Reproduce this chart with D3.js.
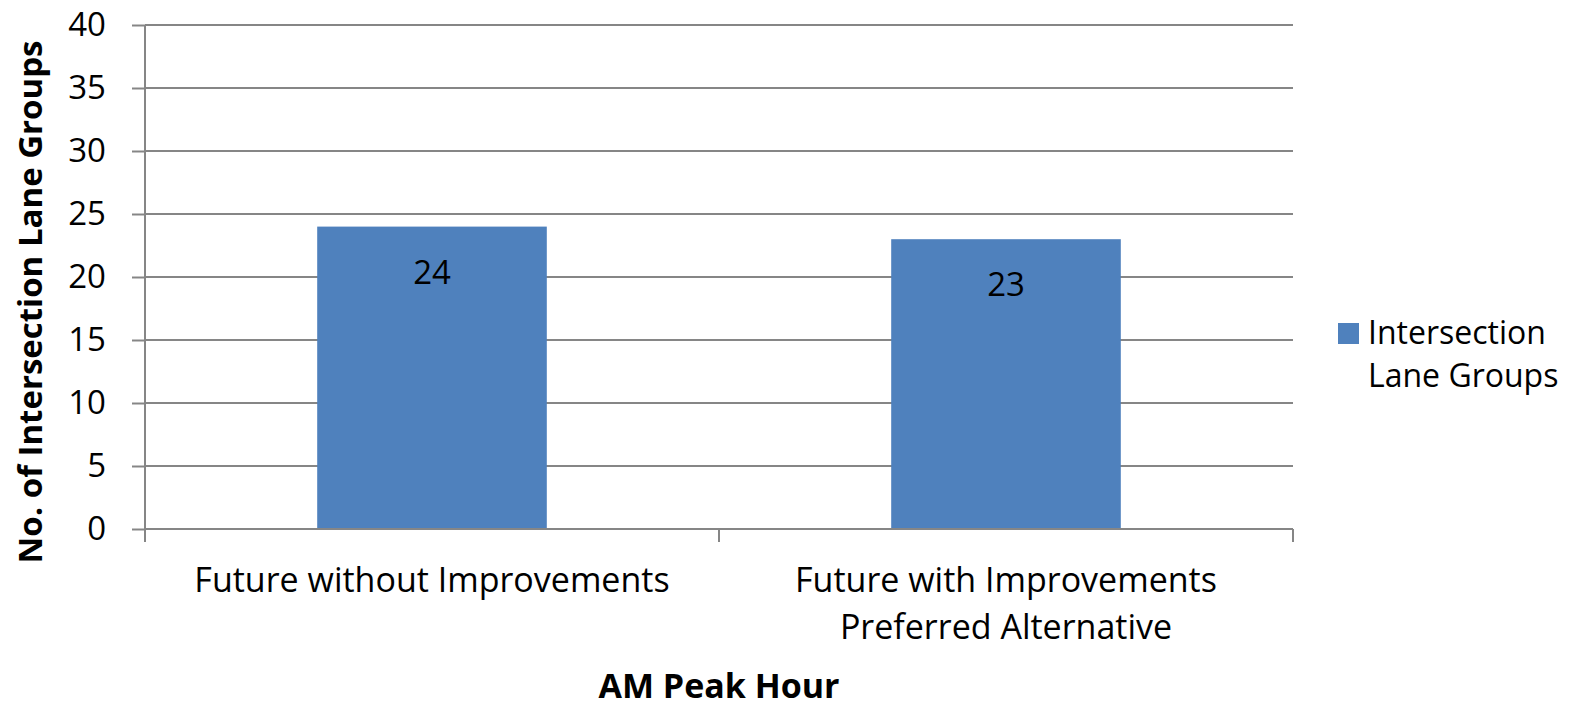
<!DOCTYPE html>
<html>
<head>
<meta charset="utf-8">
<script src="https://cdn.jsdelivr.net/npm/d3@7"></script>
<style>
  body { margin: 0; background: #fff; }
  svg { display: block; font-family: "Open Sans", Lato, sans-serif; }
</style>
</head>
<body>
<div id="chart"></div>
<script>
// categories and values
const categories = ["Future without Improvements", "Future with Improvements\nPreferred Alternative"];
const values = [24, 23];
const yTicks = [0, 5, 10, 15, 20, 25, 30, 35, 40];
const seriesName = ["Intersection", "Lane Groups"];

const W = 1570, H = 708;
const plot = { left: 145, right: 1293, top: 25, bottom: 529 };
const gridColor = "#868686";
const barColor = "#4F81BD";
const fs = 33;

const svg = d3.select("#chart").append("svg")
  .attr("width", W)
  .attr("height", H);

const x = d3.scaleBand()
  .domain(categories)
  .range([plot.left, plot.right])
  .paddingInner(0.6)
  .paddingOuter(0.3);

const y = d3.scaleLinear()
  .domain([0, 40])
  .range([plot.bottom, plot.top]);

// gridlines + y ticks
const yAxis = svg.append("g")
  .attr("transform", `translate(${plot.left},0)`)
  .call(d3.axisLeft(y).tickValues(yTicks).tickSize(13).tickPadding(26));
yAxis.select(".domain").remove();
yAxis.selectAll("line").attr("stroke", gridColor).attr("stroke-width", 2);
yAxis.selectAll("text")
  .attr("fill", "#000")
  .attr("font-size", fs)
  .attr("font-family", "'Open Sans', Lato, sans-serif");

svg.append("g")
  .selectAll("line")
  .data(yTicks)
  .enter().append("line")
  .attr("x1", plot.left).attr("x2", plot.right)
  .attr("y1", d => y(d)).attr("y2", d => y(d))
  .attr("stroke", gridColor)
  .attr("stroke-width", 2);

// bars
svg.append("g")
  .selectAll("rect")
  .data(values)
  .enter().append("rect")
  .attr("x", (d, i) => x(categories[i]))
  .attr("width", x.bandwidth())
  .attr("y", d => y(d))
  .attr("height", d => y(0) - y(d))
  .attr("fill", barColor);

// data labels
svg.append("g")
  .selectAll("text")
  .data(values)
  .enter().append("text")
  .attr("x", (d, i) => x(categories[i]) + x.bandwidth() / 2)
  .attr("y", d => y(d) + 57)
  .attr("text-anchor", "middle")
  .attr("font-size", fs)
  .text(d => d);

// y axis line
svg.append("line")
  .attr("x1", plot.left).attr("x2", plot.left)
  .attr("y1", plot.top).attr("y2", plot.bottom + 13)
  .attr("stroke", gridColor).attr("stroke-width", 2);

// x axis line + ticks between categories
svg.append("line")
  .attr("x1", plot.left).attr("x2", plot.right)
  .attr("y1", plot.bottom).attr("y2", plot.bottom)
  .attr("stroke", gridColor).attr("stroke-width", 2);

const step = x.step();
const xTickPos = d3.range(categories.length + 1).map(i => plot.left + i * step);
svg.append("g")
  .selectAll("line")
  .data(xTickPos)
  .enter().append("line")
  .attr("x1", d => d).attr("x2", d => d)
  .attr("y1", plot.bottom).attr("y2", plot.bottom + 13)
  .attr("stroke", gridColor).attr("stroke-width", 2);

// category labels
const catG = svg.append("g");
categories.forEach((c, i) => {
  const cx = x(c) + x.bandwidth() / 2;
  const t = catG.append("text")
    .attr("x", cx)
    .attr("y", 592)
    .attr("text-anchor", "middle")
    .attr("font-size", 34);
  c.split("\n").forEach((line, j) => {
    t.append("tspan")
      .attr("x", cx)
      .attr("dy", j === 0 ? 0 : 47)
      .text(line);
  });
});

// axis titles
svg.append("text")
  .attr("x", (plot.left + plot.right) / 2)
  .attr("y", 698)
  .attr("text-anchor", "middle")
  .attr("font-size", 34)
  .attr("font-weight", "bold")
  .text("AM Peak Hour");

svg.append("text")
  .attr("transform", `translate(42,302) rotate(-90)`)
  .attr("text-anchor", "middle")
  .attr("font-size", 33)
  .attr("font-weight", "bold")
  .text("No. of Intersection Lane Groups");

// legend
const lg = svg.append("g");
lg.append("rect")
  .attr("x", 1338).attr("y", 323)
  .attr("width", 21).attr("height", 21)
  .attr("fill", barColor);
seriesName.forEach((s, i) => {
  lg.append("text")
    .attr("x", 1368)
    .attr("y", 344 + i * 43)
    .attr("font-size", 32)
    .text(s);
});
</script>
</body>
</html>
